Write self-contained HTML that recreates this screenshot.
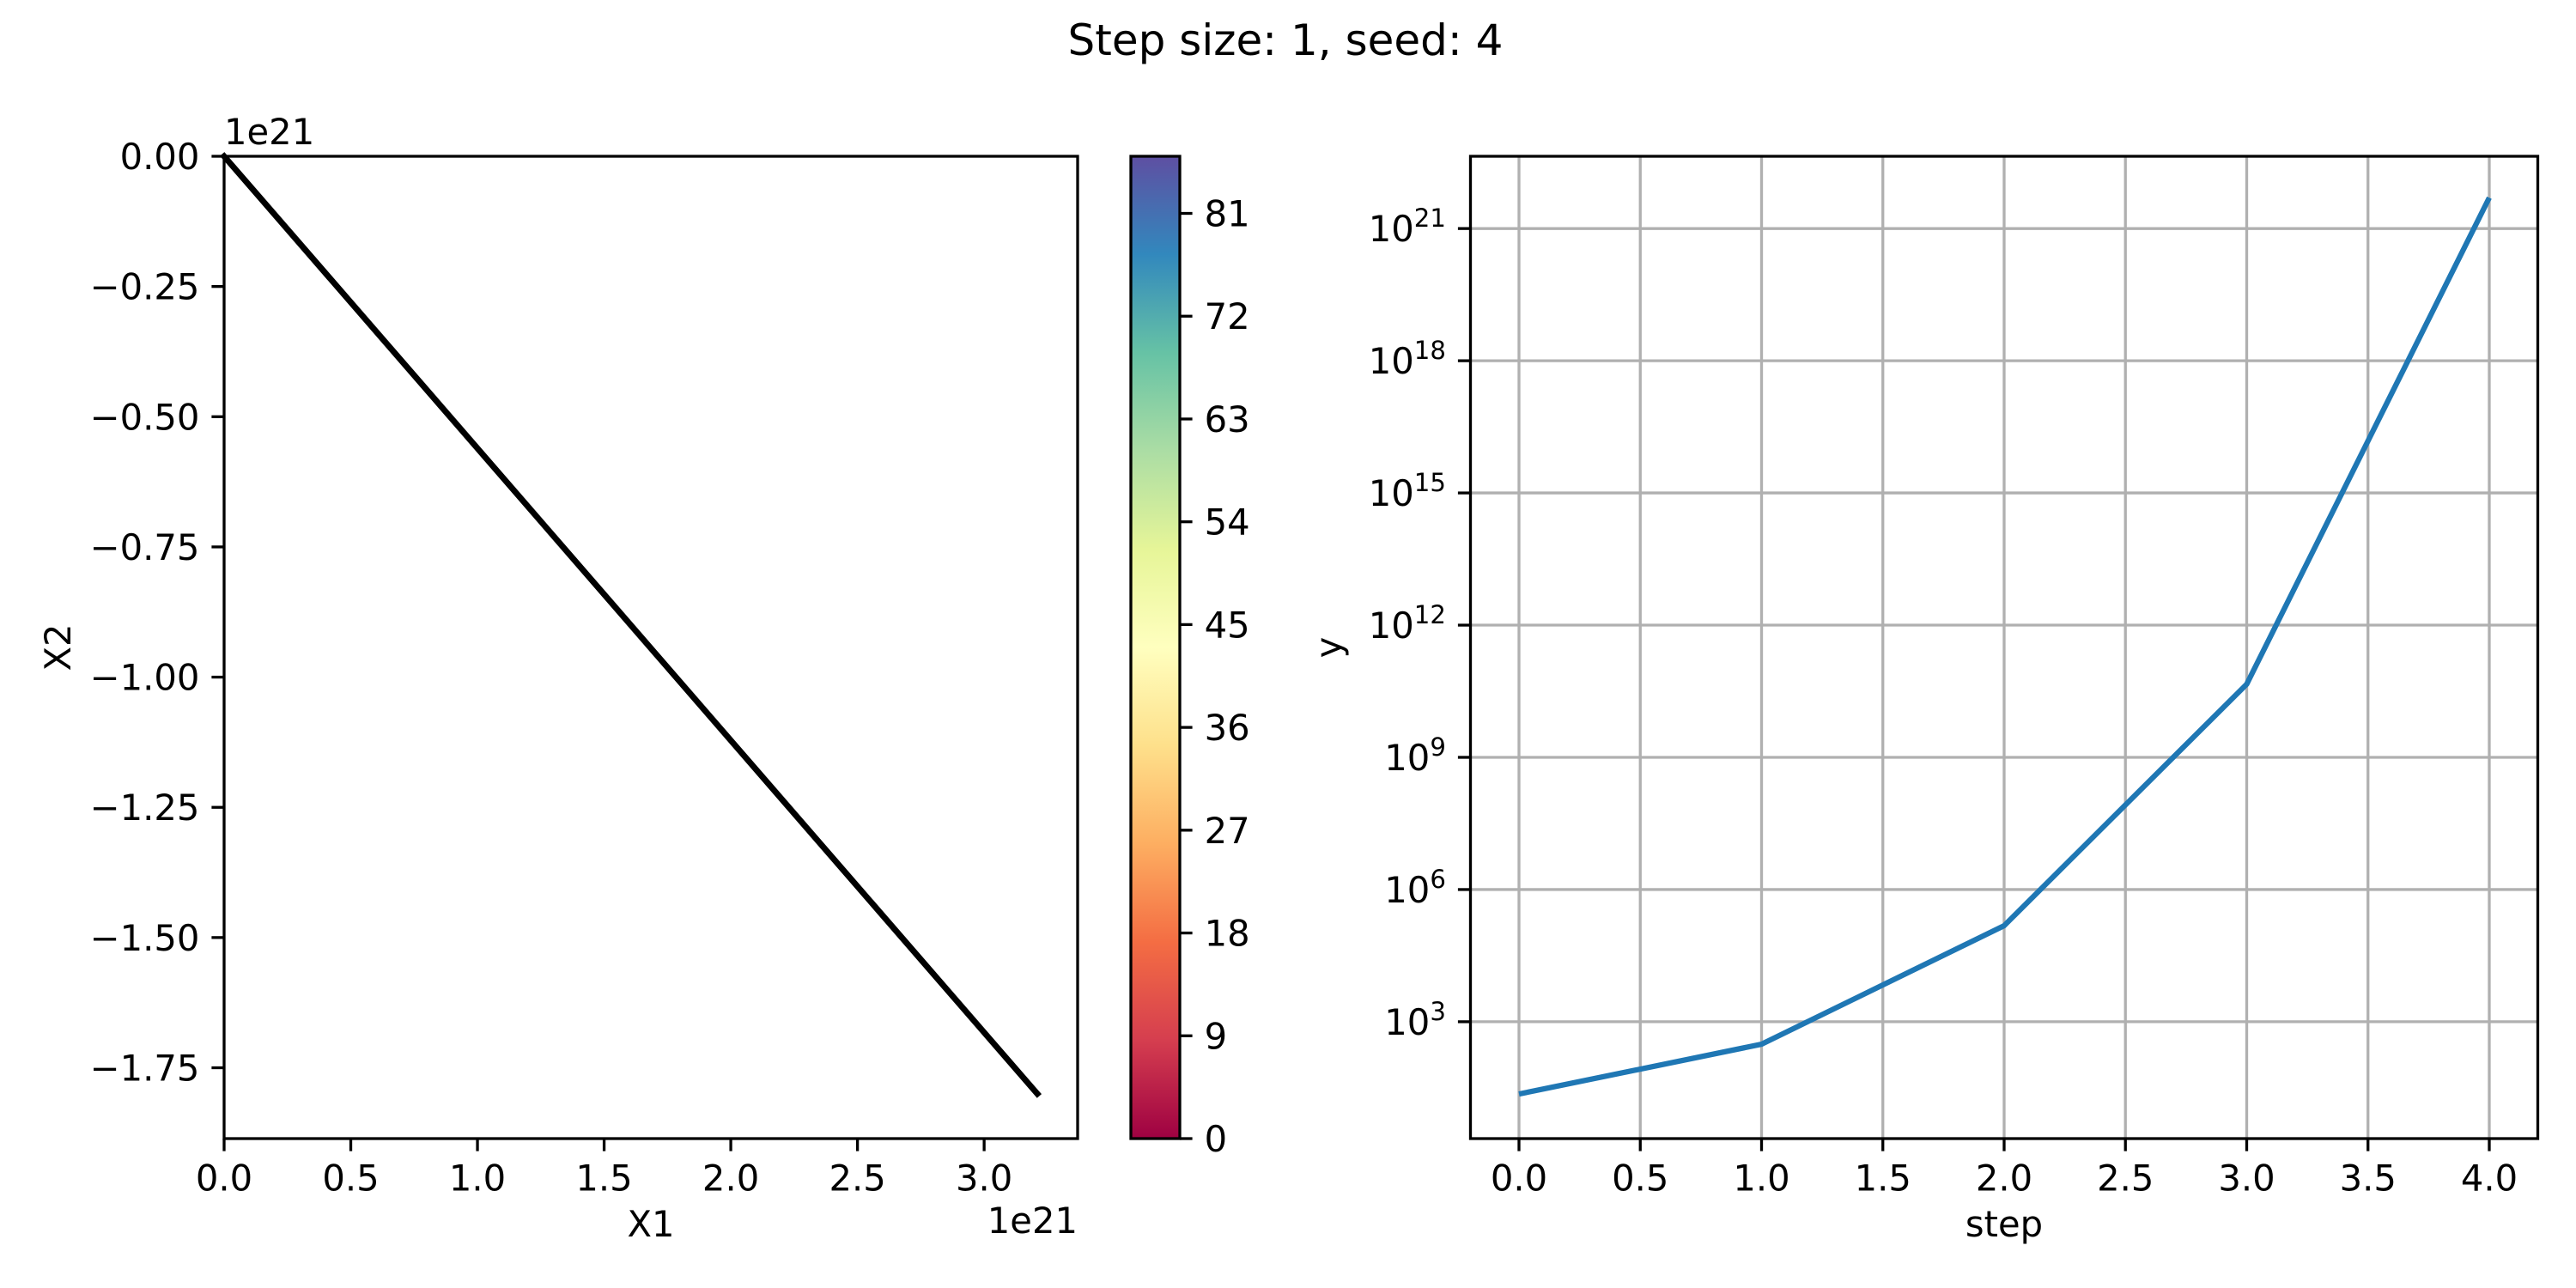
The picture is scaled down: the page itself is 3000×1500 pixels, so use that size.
<!DOCTYPE html>
<html><head><meta charset="utf-8"><style>
html,body{margin:0;padding:0;background:#fff}
svg{display:block;font-family:"DejaVu Sans","Liberation Sans",sans-serif}
</style></head><body>
<svg id="fig" xmlns="http://www.w3.org/2000/svg" width="3000" height="1500" viewBox="0 0 3000 1500">
<defs>
<linearGradient id="spectral" x1="0" y1="1" x2="0" y2="0">
<stop offset="0" stop-color="#9e0142"/><stop offset="0.1" stop-color="#d53e4f"/><stop offset="0.2" stop-color="#f46d43"/><stop offset="0.3" stop-color="#fdae61"/><stop offset="0.4" stop-color="#fee08b"/><stop offset="0.5" stop-color="#ffffbf"/><stop offset="0.6" stop-color="#e6f598"/><stop offset="0.7" stop-color="#abdda4"/><stop offset="0.8" stop-color="#66c2a5"/><stop offset="0.9" stop-color="#3288bd"/><stop offset="1" stop-color="#5e4fa2"/>
</linearGradient>
</defs>
<text x="1497" y="64" font-size="50" text-anchor="middle">Step size: 1, seed: 4</text>
<g id="left"></g>
<g id="cbar"></g>
<g id="right"></g>
</svg>
<script>
// Left panel data (units of 1e21)
const trajX1 = [0, 3.21];
const trajX2 = [0, -1.80];
const leftXTicks = [0, 0.5, 1.0, 1.5, 2.0, 2.5, 3.0];
const leftXTickLabels = ["0.0","0.5","1.0","1.5","2.0","2.5","3.0"];
const leftYTicks = [0, -0.25, -0.5, -0.75, -1.0, -1.25, -1.5, -1.75];
const leftYTickLabels = ["0.00","\u22120.25","\u22120.50","\u22120.75","\u22121.00","\u22121.25","\u22121.50","\u22121.75"];
// Colorbar
const cbarTicks = [0, 9, 18, 27, 36, 45, 54, 63, 72, 81];
const cbarRange = [0, 86];
// Right panel data
const steps = [0, 1, 2, 3, 4];
const yLog10 = [1.36, 2.49, 5.18, 10.66, 21.70];
const rightXTicks = [0, 0.5, 1.0, 1.5, 2.0, 2.5, 3.0, 3.5, 4.0];
const rightXTickLabels = ["0.0","0.5","1.0","1.5","2.0","2.5","3.0","3.5","4.0"];
const rightYTickExps = [3, 6, 9, 12, 15, 18, 21];

const NS = "http://www.w3.org/2000/svg";
function mk(parent, tag, attrs, text){
  const e = document.createElementNS(NS, tag);
  for (const k in attrs) e.setAttribute(k, attrs[k]);
  if (text !== undefined) e.textContent = text;
  parent.appendChild(e); return e;
}
const FS = 41.7, TL = 14.6, LW = 3.3;

// ---------- Left panel ----------
const L = document.getElementById('left');
const lx0 = 261, lx1 = 1255, ly0 = 182, ly1 = 1326;
const lxMin = 0, lxMax = 3.369, lyMax = 0, lyMin = -1.886;
const lxs = v => lx0 + (v - lxMin) / (lxMax - lxMin) * (lx1 - lx0);
const lys = v => ly0 + (lyMax - v) / (lyMax - lyMin) * (ly1 - ly0);
let pts = trajX1.map((x,i)=>lxs(x)+','+lys(trajX2[i])).join(' ');
let tl = mk(L,'polyline',{points:pts,fill:'none',stroke:'#000','stroke-width':7,'stroke-linecap':'square'});


leftXTicks.forEach((t,i)=>{
  const x = lxs(t);
  let tk = mk(L,'line',{x1:x,y1:ly1,x2:x,y2:ly1+TL,stroke:'#000','stroke-width':LW});
  
  
  let lb = mk(L,'text',{x:x,y:ly1+TL+14+FS*0.76,'font-size':FS,'text-anchor':'middle'},leftXTickLabels[i]);
  
  
});
leftYTicks.forEach((t,i)=>{
  const y = lys(t);
  let tk = mk(L,'line',{x1:lx0-TL,y1:y,x2:lx0,y2:y,stroke:'#000','stroke-width':LW});
  
  
  let lb = mk(L,'text',{x:lx0-TL-14,y:y+15,'font-size':FS,'text-anchor':'end'},leftYTickLabels[i]);
  
  
});
let lf = mk(L,'rect',{x:lx0,y:ly0,width:lx1-lx0,height:ly1-ly0,fill:'none',stroke:'#000','stroke-width':LW});


let o1 = mk(L,'text',{x:lx0,y:168,'font-size':FS},'1e21');


let o2 = mk(L,'text',{x:lx1,y:1436,'font-size':FS,'text-anchor':'end'},'1e21');


let xl = mk(L,'text',{x:(lx0+lx1)/2,y:1440,'font-size':FS,'text-anchor':'middle'},'X1');


let yl = mk(L,'text',{x:82,y:(ly0+ly1)/2,'font-size':FS,'text-anchor':'middle',transform:'rotate(-90 82 '+((ly0+ly1)/2)+')'},'X2');



// ---------- Colorbar ----------
const C = document.getElementById('cbar');
const cx0 = 1317, cx1 = 1374;
const cys = v => ly1 - (v - cbarRange[0])/(cbarRange[1]-cbarRange[0])*(ly1-ly0);
let cr = mk(C,'rect',{x:cx0,y:ly0,width:cx1-cx0,height:ly1-ly0,fill:'url(#spectral)',stroke:'#000','stroke-width':LW});


cbarTicks.forEach(t=>{
  const y = cys(t);
  let tk = mk(C,'line',{x1:cx1,y1:y,x2:cx1+TL,y2:y,stroke:'#000','stroke-width':LW});
  
  
  let lb = mk(C,'text',{x:cx1+TL+14,y:y+15,'font-size':FS},String(t));
  
  
});

// ---------- Right panel ----------
const R = document.getElementById('right');
const rx0 = 1712.5, rx1 = 2955.5, ry0 = 182, ry1 = 1326;
const rxMin = -0.2, rxMax = 4.2, ryMin = 0.348, ryMax = 22.64;
const rxs = v => rx0 + (v - rxMin)/(rxMax-rxMin)*(rx1-rx0);
const rys = e => ry1 - (e - ryMin)/(ryMax-ryMin)*(ry1-ry0);
rightXTicks.forEach(t=>{
  const x = rxs(t);
  let g = mk(R,'line',{x1:x,y1:ry0,x2:x,y2:ry1,stroke:'#b0b0b0','stroke-width':LW});
  
  
});
rightYTickExps.forEach(e=>{
  const y = rys(e);
  let g = mk(R,'line',{x1:rx0,y1:y,x2:rx1,y2:y,stroke:'#b0b0b0','stroke-width':LW});
  
  
});
let rp = steps.map((s,i)=>rxs(s)+','+rys(yLog10[i])).join(' ');
let rl = mk(R,'polyline',{points:rp,fill:'none',stroke:'#1f77b4','stroke-width':6.25,'stroke-linejoin':'round'});


rightXTicks.forEach((t,i)=>{
  const x = rxs(t);
  let tk = mk(R,'line',{x1:x,y1:ry1,x2:x,y2:ry1+TL,stroke:'#000','stroke-width':LW});
  
  
  let lb = mk(R,'text',{x:x,y:ry1+TL+14+FS*0.76,'font-size':FS,'text-anchor':'middle'},rightXTickLabels[i]);
  
  
});
rightYTickExps.forEach(e=>{
  const y = rys(e);
  let tk = mk(R,'line',{x1:rx0-TL,y1:y,x2:rx0,y2:y,stroke:'#000','stroke-width':LW});
  
  
  let lb = mk(R,'text',{x:rx0-TL-14,y:y+15,'font-size':FS,'text-anchor':'end'});
  
  
  mk(lb,'tspan',{},'10');
  mk(lb,'tspan',{'font-size':FS*0.7,dy:-17},String(e));
});
let rf = mk(R,'rect',{x:rx0,y:ry0,width:rx1-rx0,height:ry1-ry0,fill:'none',stroke:'#000','stroke-width':LW});


let sx = mk(R,'text',{x:rxs(2),y:1440,'font-size':FS,'text-anchor':'middle'},'step');


let sy = mk(R,'text',{x:1562,y:(ry0+ry1)/2,'font-size':FS,'text-anchor':'middle',transform:'rotate(-90 1562 '+((ry0+ry1)/2)+')'},'y');


</script>
</body></html>
